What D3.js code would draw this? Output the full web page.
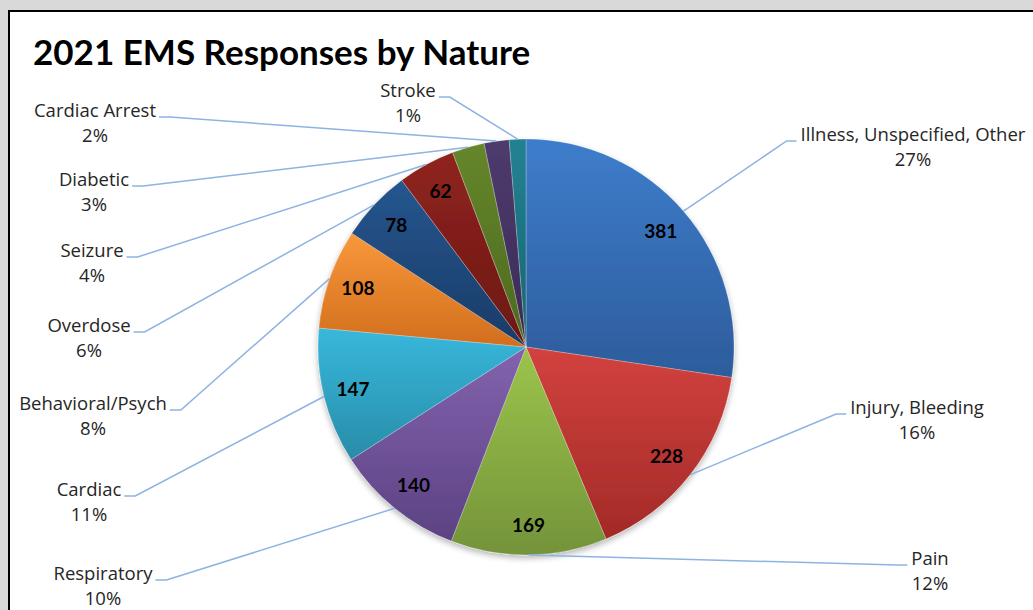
<!DOCTYPE html>
<html>
<head>
<meta charset="utf-8">
<script src="https://cdn.jsdelivr.net/npm/d3@7"></script>
<style>
  html, body { margin: 0; padding: 0; background: #d9d9d9; }
  svg { display: block; }
  text { font-family: Lato, "Open Sans", sans-serif; }
  .cat { font-family: "Open Sans", Lato, sans-serif; }
</style>
</head>
<body>
<svg id="chart" width="1033" height="610"></svg>
<script>
// data, clockwise from 12 o'clock
var categories = ["Illness, Unspecified, Other", "Injury, Bleeding", "Pain", "Respiratory",
  "Cardiac", "Behavioral/Psych", "Overdose", "Seizure", "Diabetic", "Cardiac Arrest", "Stroke"];
var values = [381, 228, 169, 140, 147, 108, 78, 62, 35, 27, 18];
var showValue = [true, true, true, true, true, true, true, true, false, false, false];

// slice colours (top / bottom of the gradient)
var topColors = ["#3e7dcc", "#d2423f", "#9cc44b", "#8263ae", "#38b8dc", "#f8983b",
  "#25568f", "#90231e", "#66862b", "#4e3b6e", "#228292"];
var bottomColors = ["#2d5c9b", "#a32a27", "#74933a", "#5c4283", "#288ca8", "#d26e1d",
  "#1a3b66", "#6b1814", "#4c691f", "#3a2a54", "#196470"];

// where Excel put each category label: centre x, first-line baseline
var labelPos = [[913, 141], [917, 414], [930, 565], [103, 580], [89, 496], [93, 410],
  [89, 332], [92, 257], [94, 186], [95, 117], [408, 97]];

var cx = 526, cy = 347, R = 208;

var svg = d3.select("#chart");

svg.append("rect")
  .attr("x", 9).attr("y", 11)
  .attr("width", 1100).attr("height", 700)
  .attr("fill", "#ffffff")
  .attr("stroke", "#000000")
  .attr("stroke-width", 2);

svg.append("text")
  .attr("x", 33).attr("y", 65)
  .attr("font-size", 35)
  .attr("font-weight", "bold")
  .attr("fill", "#000")
  .text("2021 EMS Responses by Nature");

var defs = svg.append("defs");
categories.forEach(function(c, i) {
  var gr = defs.append("linearGradient")
    .attr("id", "grad" + i)
    .attr("x1", 0).attr("y1", 0).attr("x2", 0).attr("y2", 1);
  gr.append("stop").attr("offset", "0%").attr("stop-color", topColors[i]);
  gr.append("stop").attr("offset", "100%").attr("stop-color", bottomColors[i]);
});

var shadow = defs.append("filter").attr("id", "shadow")
  .attr("x", "-10%").attr("y", "-10%").attr("width", "120%").attr("height", "125%");
shadow.append("feGaussianBlur").attr("in", "SourceAlpha").attr("stdDeviation", 3);
shadow.append("feOffset").attr("dx", 0).attr("dy", 3).attr("result", "blur");
shadow.append("feComponentTransfer").append("feFuncA").attr("type", "linear").attr("slope", 0.3);
var merge = shadow.append("feMerge");
merge.append("feMergeNode");
merge.append("feMergeNode").attr("in", "SourceGraphic");

var pie = d3.pie().sort(null).value(function(d) { return d; });
var arcs = pie(values);

var arc = d3.arc().innerRadius(0).outerRadius(R);
var labelArc = d3.arc().innerRadius(178).outerRadius(178);

var g = svg.append("g").attr("transform", "translate(" + cx + "," + cy + ")");

// leader lines
var lines = svg.append("g");

var pieG = g.append("g").attr("filter", "url(#shadow)");
pieG.selectAll("path")
  .data(arcs)
  .enter()
  .append("path")
  .attr("d", arc)
  .attr("fill", function(d, i) { return "url(#grad" + i + ")"; })
  .attr("stroke", "rgba(255,255,255,0.35)")
  .attr("stroke-width", 0.7);

g.selectAll(".val")
  .data(arcs)
  .enter()
  .filter(function(d, i) { return showValue[i]; })
  .append("text")
  .attr("class", "val")
  .attr("transform", function(d) { return "translate(" + labelArc.centroid(d) + ")"; })
  .attr("text-anchor", "middle")
  .attr("dy", "0.36em")
  .attr("font-size", 19)
  .attr("font-weight", "bold")
  .attr("fill", "#000")
  .text(function(d) { return d.data; });

var total = d3.sum(values);

arcs.forEach(function(d, i) {
  var p = labelPos[i];
  var lab = svg.append("text")
    .attr("class", "cat")
    .attr("text-anchor", "middle")
    .attr("font-size", 18.5)
    .attr("fill", "#262626");
  lab.append("tspan").attr("x", p[0]).attr("y", p[1]).text(categories[i]);
  lab.append("tspan").attr("x", p[0]).attr("y", p[1] + 25)
    .text(Math.round(values[i] / total * 100) + "%");

  var w = lab.select("tspan").node().getComputedTextLength();
  var mid = (d.startAngle + d.endAngle) / 2;
  var ex = cx + R * Math.sin(mid), ey = cy - R * Math.cos(mid);
  var left = p[0] < ex;
  var sx = left ? p[0] + w / 2 + 3 : p[0] - w / 2 - 4;
  var kx = left ? sx + 11 : sx - 10;
  var ly = p[1];
  lines.append("path")
    .attr("d", "M" + sx + "," + ly + "L" + kx + "," + ly + "L" + ex + "," + ey)
    .attr("fill", "none")
    .attr("stroke", "#8db3e2")
    .attr("stroke-width", 1.5);
});
</script>
</body>
</html>
